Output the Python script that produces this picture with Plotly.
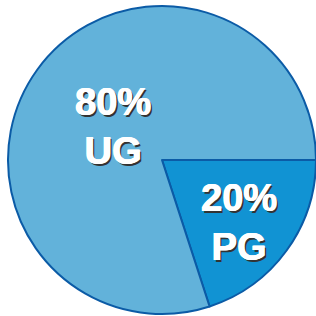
import plotly.graph_objects as go

labels = ["PG", "UG"]
values = [20, 80]
texts = ["20%<br>PG", "80%<br>UG"]
colors = ["#1193d3", "#62b2da"]
label_pos = [(0.756, 0.297), (0.358, 0.601)]

font = dict(family="Liberation Sans, Arial", size=38, color="white",
            weight="bold",
            shadow="0.7px 0 0 white, -0.5px 0 0 white, 2px 2px 0.5px #333")

fig = go.Figure(go.Pie(
    labels=labels,
    values=values,
    textinfo="none",
    sort=False,
    direction="clockwise",
    rotation=90,
    marker=dict(colors=colors, line=dict(color="#0b5ba6", width=2)),
    domain=dict(x=[0.0253, 1.0], y=[0.0032, 0.9842]),
    showlegend=False,
    hoverinfo="skip",
))
for t, (x, y) in zip(texts, label_pos):
    fig.add_annotation(text=t, x=x, y=y, xref="paper", yref="paper",
                       xanchor="center", yanchor="middle",
                       showarrow=False, font=font, align="center")
fig.update_layout(
    width=316, height=316, autosize=False,
    margin=dict(l=0, r=0, t=0, b=0),
    paper_bgcolor="white", plot_bgcolor="white",
)
fig.write_html("out.html", config={"displayModeBar": False},
               post_script="document.body.style.margin='0';")
